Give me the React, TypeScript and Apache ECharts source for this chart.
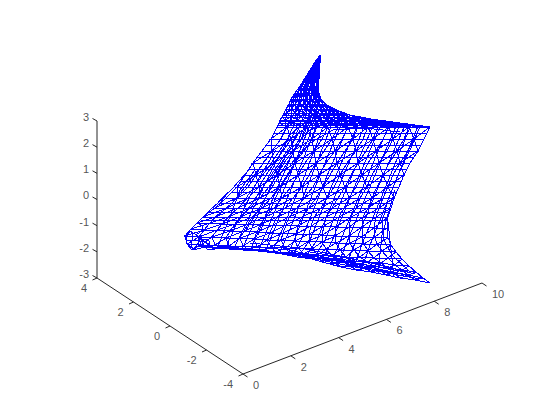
import React, { useEffect, useRef } from "react";
import * as echarts from "echarts";

const xTicks = [0, 2, 4, 6, 8, 10];
const yTicks = [-4, -2, 0, 2, 4];
const zTicks = [-3, -2, -1, 0, 1, 2, 3];

// Mesh vertices, on the flat view plane (hidden value axes), row by row.
const meshRowsH: number[][] = [
  [320,320,320,320,320,320,320,320,320,320,320,320,320,320,320,320],
  [315,315,316,316,316,317,317,317,317,318,318,318,319,319,319,320],
  [310,311,311,312,312,313,314,314,315,315,316,317,317,318,318,319],
  [305,306,307,308,309,310,311,312,312,313,314,315,316,317,318,319],
  [300,301,302,304,305,306,307,308,310,311,312,313,314,316,317,318],
  [295,297,298,300,301,303,305,306,308,309,311,313,314,316,317,319],
  [291,293,295,297,299,301,303,305,307,309,311,313,315,317,319,321],
  [289,291,293,295,298,300,303,305,308,310,313,315,318,320,323,325],
  [286,289,292,295,298,302,305,308,312,315,318,322,325,328,332,335],
  [284,287,291,295,299,303,307,311,315,319,323,327,331,335,339,343],
  [282,286,291,296,301,306,311,316,320,325,330,335,340,345,350,355],
  [280,285,291,298,304,310,316,322,329,335,341,347,353,360,366,372],
  [279,285,293,301,309,317,325,332,340,348,356,364,372,380,388,396],
  [277,287,297,307,317,328,338,348,358,368,378,389,399,409,420,430],
  [271,281,291,302,312,322,332,342,353,363,373,383,393,404,414,424],
  [262,272,283,293,304,314,324,335,345,356,366,376,387,397,408,418],
  [253,263,274,284,295,305,316,326,337,347,358,368,379,389,400,410],
  [245,256,266,277,287,298,309,319,330,340,351,362,372,383,393,404],
  [237,248,259,269,280,291,302,313,323,334,345,356,367,377,388,399],
  [226,237,248,260,271,282,293,304,316,327,338,349,360,372,383,394],
  [215,227,238,250,262,274,285,297,309,321,332,344,356,368,379,391],
  [203,215,228,240,252,265,277,289,302,314,326,339,351,363,376,388],
  [197,210,222,235,248,260,273,286,298,311,324,336,349,362,374,387],
  [191,204,217,230,244,257,270,283,296,309,322,335,349,362,375,388],
  [185,199,212,226,240,254,267,281,295,309,322,336,350,364,377,391],
  [187,201,215,229,243,257,271,285,298,312,326,340,354,368,382,396],
  [192,206,220,234,248,262,276,290,304,318,332,346,360,374,388,402],
  [198,212,226,240,254,268,282,296,310,325,339,353,367,381,395,409],
  [200,214,229,243,258,272,286,301,315,330,344,358,373,387,402,416],
  [204,219,233,248,262,277,292,306,321,335,350,365,379,394,408,423],
  [208,223,238,252,267,282,297,312,326,341,356,371,386,400,415,430],
];
const meshRowsV: (number | number[])[] = [
  55, 62, 70, 78, 86, 93, 99, 104, 109, 113, 117, 120, 123, 127, 139, 151, 163, 175, 187, 198, 208, 217,
  [223,223,224,224,224,225,225,225,226,226,226,227,227,227,228,228],
  [229,230,230,231,231,232,233,233,234,234,235,236,236,237,237,238],
  [236,237,237,238,238,239,240,240,241,241,242,243,243,244,244,245],
  [244,245,245,246,246,247,247,248,248,249,249,250,250,251,251,252],
  [250,247,247,248,249,250,252,253,254,255,256,257,257,258,258,259],
  [246,248,248,249,250,251,253,254,256,258,259,261,262,263,265,266],
  [238,248,249,250,251,252,254,256,258,260,262,264,266,268,270,272],
  [246,248,249,250,251,253,255,257,260,263,266,268,270,273,275,278],
  [250,248,249,250,252,254,257,259,263,267,270,272,275,278,280,283],
];

// Strands where lines of the surface gather into the darker bands and curls of the picture.
const strands: number[][] = [
  [283,115,347,115],
  [280,121,380,121],
  [278,125,412,125],
  [273,133,427,133],
  [266,145,421,145],
  [258,157,414,157],
  [249,169,407,169],
  [241,181,401,181],
  [232,192,396,192],
  [221,203,392,203],
  [209,212,389,212],
  [201,220,387,220],
  [320,55,310,80,297,107,280,140,262,165,245,187,232,203,213,220],
  [320,55,313,80,302,107,287,140,270,165,254,187,241,205,222,224],
  [320,57,316,80,307,107,294,140,278,165,263,187,251,205,233,228],
  [319,70,312,107,301,140,286,165,272,187,260,207,245,232],
  [318,85,318,107,308,140,294,165,281,187,270,210,258,235],
  [270,165,290,135,310,118,333,113,350,119,380,124,412,128],
  [270,180,290,150,310,130,335,120,365,122,400,128],
  [290,165,310,143,333,130,365,128,400,132],
  [345,115,320,175,295,238,287,256],
  [360,119,335,178,310,240,298,257],
  [375,121,350,180,325,240,313,260],
  [390,123,365,182,340,242,330,265],
  [405,125,380,183,355,243,345,268],
  [418,126,392,190,370,245,361,271],
  [330,108,305,175,280,235,272,253],
  [320,100,290,175,265,235,258,251],
  [395,190,382,235,378,274],
  [388,222,394,277],
  [352,117,327,176,302,238,292,257],
  [367,120,342,179,317,240,305,258],
  [382,122,357,181,332,241,321,262],
  [397,124,372,182,347,242,337,267],
  [411,125,386,186,362,244,353,270],
  [337,111,312,175,287,236,279,254],
  [325,104,297,175,272,235,265,252],
  [318,96,283,175,258,233,250,250],
  [300,130,276,175,251,230,242,249],
  [290,135,268,178,244,228,234,248],
  [276,150,258,180,236,225,226,247],
  [255,170,240,190,228,222,218,246],
  [318,75,318,92,321,99,327,105,336,110,350,115,371,119,400,123,430,127],
  [418,132,410,150,398,175,388,200,382,222,384,240,392,255,410,272],
  [240,246,290,250,340,262,395,274],
  [250,243,300,248,350,258,400,270],
  [226,196,210,210,200,220],
  [247,172,232,189,218,202],
  [300,256,360,268,420,279],
  [290,252,350,263,412,276],
  [280,252,340,260,405,272],
  [310,252,370,262,415,274],
  [206,239,209,241,210,245,207,248,203,247,202,243,203,240,206,239],
  [190,231,198,236,199,242,194,249,187,244,186,237,190,231],
  [193,234,191,247],
  [187,240,198,241],
  [197,223,203,226,202,231,197,234],
];

const BLUE = "#0000ff";
const INK = "#262626";

// Hand-fitted view of the 3D box onto the flat plane.
const project = (x: number, y: number, z: number): [number, number] => [
  243 + 23.9 * x - 18.25 * (y + 4),
  374 - 9.1 * x - 12 * (y + 4) - 26.17 * (z + 3),
];

function buildTriangles(rowsH: number[][], rowsV: (number | number[])[], flipUntil: number) {
  const out: number[][] = [];
  const v = (i: number, j: number): [number, number] => {
    const r = rowsV[i];
    return [rowsH[i][j], typeof r === "number" ? r : r[j]];
  };
  for (let i = 0; i + 1 < rowsH.length; i++) {
    for (let j = 0; j + 1 < rowsH[i].length; j++) {
      const a = v(i, j), b = v(i, j + 1), c = v(i + 1, j), d = v(i + 1, j + 1);
      const flip = i < flipUntil && (i + j) % 2 === 0;
      if (flip) {
        out.push([...a, ...b, ...d], [...a, ...d, ...c]);
      } else {
        out.push([...a, ...b, ...c], [...b, ...d, ...c]);
      }
    }
  }
  return out;
}

function buildSegments(list: number[][]) {
  const segs: number[][] = [];
  for (const s of list) {
    for (let k = 0; k + 3 < s.length; k += 2) segs.push([s[k], s[k + 1], s[k + 2], s[k + 3]]);
  }
  return segs;
}

function buildAxes() {
  const segs: number[][] = [];
  const push = (p: [number, number], q: [number, number]) => segs.push([...p, ...q]);
  push(project(0, 4, -3), project(0, 4, 3));
  push(project(0, 4, -3), project(0, -4, -3));
  push(project(0, -4, -3), project(10, -4, -3));
  for (const z of zTicks) {
    const p = project(0, 4, z);
    push(p, [p[0] - 4.5, p[1] - 2.5]);
  }
  for (const y of yTicks) {
    const p = project(0, y, -3);
    push(p, [p[0] - 4.5, p[1] + 2]);
  }
  for (const x of xTicks) {
    const p = project(x, -4, -3);
    push(p, [p[0] + 4.5, p[1] + 3]);
  }
  return segs;
}

const triangleSeries = (data: number[][]) => ({
  type: "custom",
  silent: true,
  clip: false,
  data,
  encode: { x: [0, 2, 4], y: [1, 3, 5] },
  renderItem: (_: any, api: any) => ({
    type: "polygon",
    shape: {
      points: [0, 2, 4].map((k) => api.coord([api.value(k), api.value(k + 1)])),
    },
    style: { fill: "none", stroke: BLUE, lineWidth: 1 },
  }),
});

const segmentSeries = (data: number[][], color: string, lineWidth: number) => ({
  type: "custom",
  silent: true,
  clip: false,
  data,
  encode: { x: [0, 2], y: [1, 3] },
  renderItem: (_: any, api: any) => {
    const p = api.coord([api.value(0), api.value(1)]);
    const q = api.coord([api.value(2), api.value(3)]);
    return {
      type: "line",
      shape: { x1: p[0], y1: p[1], x2: q[0], y2: q[1] },
      style: { stroke: color, lineWidth },
    };
  },
});

const labelSeries = (data: any[], align: string) => ({
  type: "scatter",
  symbolSize: 0,
  silent: true,
  data,
  label: {
    show: true,
    position: "inside",
    align,
    verticalAlign: "middle",
    color: INK,
    fontFamily: "'Liberation Sans', Arial, sans-serif",
    fontSize: 11,
    formatter: (p: any) => String(p.value[2]),
  },
});

export default function App() {
  const ref = useRef<HTMLDivElement>(null);
  useEffect(() => {
    document.body.style.margin = "0";
    const chart = echarts.init(ref.current!, undefined, { renderer: "svg" });
    chart.setOption({
      animation: false,
      backgroundColor: "#ffffff",
      grid: { left: 0, right: 0, top: 0, bottom: 0 },
      xAxis: { type: "value", min: 0, max: 560, show: false },
      yAxis: { type: "value", min: 0, max: 420, inverse: true, show: false },
      series: [
        triangleSeries(buildTriangles(meshRowsH, meshRowsV, 19)),
        segmentSeries(buildSegments(strands), BLUE, 1),
        segmentSeries(buildAxes(), INK, 1),
        labelSeries(
          zTicks.map((z) => {
            const p = project(0, 4, z);
            return [p[0] - 8, p[1] - 4, z];
          }),
          "right",
        ),
        labelSeries(
          yTicks.map((y) => {
            const p = project(0, y, -3);
            return [p[0] - 10, p[1] + 10, y];
          }),
          "right",
        ),
        labelSeries(
          xTicks.map((x) => {
            const p = project(x, -4, -3);
            return [p[0] + 10, p[1] + 11, x];
          }),
          "left",
        ),
      ],
    });
    return () => chart.dispose();
  }, []);
  return (
    <>
      <style>{`svg path[stroke="${BLUE}"], svg path[stroke="#00f"], svg path[stroke="blue"] { shape-rendering: crispEdges; }`}</style>
      <div ref={ref} style={{ width: 560, height: 420 }} />
    </>
  );
}
